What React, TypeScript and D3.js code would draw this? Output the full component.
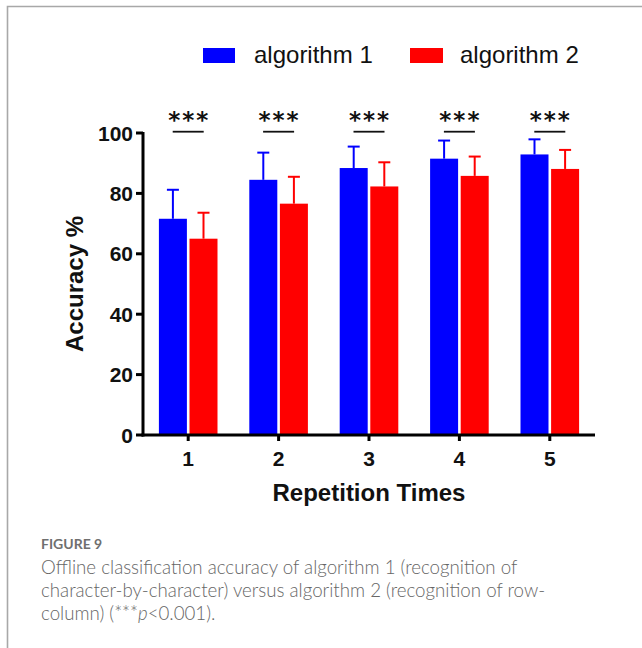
import React from "react";
import * as d3 from "d3";

// Repetition counts on the x axis
const categories = ["1", "2", "3", "4", "5"];
// Mean accuracy (%) per repetition
const algorithm1 = [71.6, 84.5, 88.4, 91.5, 92.9];
const algorithm2 = [65.0, 76.6, 82.3, 85.8, 88.1];
// Upper end of the error bars (%)
const algorithm1Upper = [81.2, 93.5, 95.5, 97.5, 97.9];
const algorithm2Upper = [73.6, 85.5, 90.3, 92.2, 94.4];
const yTicks = [0, 20, 40, 60, 80, 100];
const seriesNames = ["algorithm 1", "algorithm 2"];
const significance = ["***", "***", "***", "***", "***"];

const captionTitle = "FIGURE 9";
const captionLines = [
  "Offline classification accuracy of algorithm 1 (recognition of",
  "character-by-character) versus algorithm 2 (recognition of row-",
];

const W = 642;
const H = 648;
const BLUE = "#0000ff";
const RED = "#ff0000";
const FONT = "'Liberation Sans', Arial, sans-serif";
const CAPTION_FONT = "Lato, 'Open Sans', sans-serif";

export default function App() {
  const left = 143;
  const right = 595;
  const top = 133;
  const bottom = 435;

  const x = d3.scaleBand<string>().domain(categories).range([left, right]);
  const y = d3.scaleLinear().domain([0, 100]).range([bottom, top]);

  const barW = 28;
  const offset = 15.3;
  const capW = 12;

  const series = [
    { values: algorithm1, upper: algorithm1Upper, color: BLUE, dx: -offset },
    { values: algorithm2, upper: algorithm2Upper, color: RED, dx: offset },
  ];

  const capX = 41;

  return (
    <svg
      width={W}
      height={H}
      style={{ position: "absolute", left: 0, top: 0, background: "#fff" }}
    >
      {/* panel frame */}
      <path d={`M7.5,${H} V6.5 H${W}`} fill="none" stroke="#a8a8a8" strokeWidth={1.6} />

      {/* legend */}
      <rect x={203} y={48} width={32} height={15} fill={BLUE} />
      <text x={254} y={63} fontFamily={FONT} fontSize={24} fill="#111">
        {seriesNames[0]}
      </text>
      <rect x={410} y={48} width={33} height={15} fill={RED} />
      <text x={460} y={63} fontFamily={FONT} fontSize={24} fill="#111">
        {seriesNames[1]}
      </text>

      {/* bars with upward error bars */}
      {series.map((s, si) =>
        categories.map((c, i) => {
          const cx = (x(c) as number) + x.bandwidth() / 2 + s.dx;
          return (
            <g key={`${si}-${c}`}>
              <line
                x1={cx}
                x2={cx}
                y1={y(s.values[i])}
                y2={y(s.upper[i])}
                stroke={s.color}
                strokeWidth={2}
              />
              <line
                x1={cx - capW / 2}
                x2={cx + capW / 2}
                y1={y(s.upper[i])}
                y2={y(s.upper[i])}
                stroke={s.color}
                strokeWidth={2}
              />
              <rect
                x={cx - barW / 2}
                y={y(s.values[i])}
                width={barW}
                height={y(0) - y(s.values[i])}
                fill={s.color}
              />
            </g>
          );
        })
      )}

      {/* significance markers */}
      {categories.map((c, i) => {
        const cx = (x(c) as number) + x.bandwidth() / 2;
        return (
          <g key={`sig-${c}`}>
            <text
              x={cx + 1}
              y={128}
              textAnchor="middle"
              fontFamily="'DejaVu Sans', sans-serif"
              fontWeight="bold"
              fontSize={23}
              letterSpacing={2}
              fill="#111"
            >
              {significance[i]}
            </text>
            <line x1={cx - 15.5} x2={cx + 15.5} y1={131.7} y2={131.7} stroke="#111" strokeWidth={1.8} />
          </g>
        );
      })}

      {/* y axis */}
      <line x1={left} x2={left} y1={top - 1} y2={bottom + 1.5} stroke="#000" strokeWidth={3} />
      {yTicks.map((t) => (
        <g key={`yt-${t}`}>
          <line x1={left - 7} x2={left} y1={y(t)} y2={y(t)} stroke="#000" strokeWidth={3} />
          <text
            x={left - 10}
            y={y(t) + 7.5}
            textAnchor="end"
            fontFamily={FONT}
            fontWeight="bold"
            fontSize={21}
            fill="#111"
          >
            {t}
          </text>
        </g>
      ))}
      <text
        transform={`translate(83,284) rotate(-90)`}
        textAnchor="middle"
        fontFamily={FONT}
        fontWeight="bold"
        fontSize={24}
        fill="#111"
      >
        Accuracy %
      </text>

      {/* x axis */}
      <line x1={left - 1.5} x2={right} y1={bottom} y2={bottom} stroke="#000" strokeWidth={3} />
      {categories.map((c) => {
        const cx = (x(c) as number) + x.bandwidth() / 2;
        return (
          <g key={`xt-${c}`}>
            <line x1={cx} x2={cx} y1={bottom} y2={bottom + 6} stroke="#000" strokeWidth={3} />
            <text
              x={cx}
              y={466}
              textAnchor="middle"
              fontFamily={FONT}
              fontWeight="bold"
              fontSize={21}
              fill="#111"
            >
              {c}
            </text>
          </g>
        );
      })}
      <text
        x={369}
        y={501}
        textAnchor="middle"
        fontFamily={FONT}
        fontWeight="bold"
        fontSize={24}
        fill="#111"
      >
        Repetition Times
      </text>

      {/* caption */}
      <text x={capX} y={549} fontFamily={CAPTION_FONT} fontWeight="bold" fontSize={14} fill="#6f6f6f">
        {captionTitle}
      </text>
      {captionLines.map((line, i) => (
        <text
          key={`cap-${i}`}
          x={capX}
          y={574 + i * 23}
          fontFamily={CAPTION_FONT}
          fontSize={18.7}
          fontWeight={300}
          fill="#666"
        >
          {line}
        </text>
      ))}
      <text x={capX} y={620} fontFamily={CAPTION_FONT} fontSize={18.7} fontWeight={300} fill="#666">
        column) (***<tspan fontStyle="italic">p</tspan>&lt;0.001).
      </text>
    </svg>
  );
}
